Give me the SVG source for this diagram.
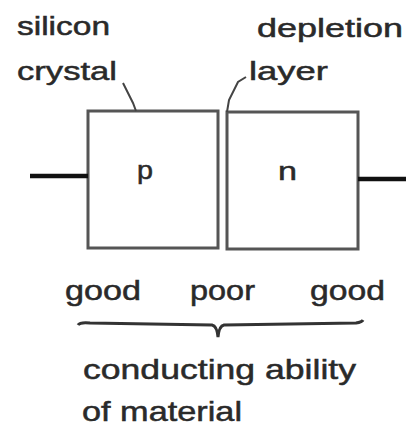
<svg xmlns="http://www.w3.org/2000/svg" width="406" height="429" viewBox="0 0 406 429">
<style>
text{font-family:"Liberation Sans",Arial,sans-serif;font-size:26px;fill:#2a2a2a;stroke:#2a2a2a;stroke-width:0.5}
.big{font-size:28px}
.box{fill:none;stroke:#555;stroke-width:3}
.lead{stroke:#111;stroke-width:4.5}
.leader{fill:none;stroke:#444;stroke-width:2}
</style>
<rect width="406" height="429" fill="#fff"/>
<g id="labels-top">
<text x="17" y="35" textLength="93" lengthAdjust="spacingAndGlyphs">silicon</text>
<text x="17" y="80" textLength="100" lengthAdjust="spacingAndGlyphs">crystal</text>
<text x="257" y="37" textLength="146" lengthAdjust="spacingAndGlyphs">depletion</text>
<text x="249" y="80" textLength="79" lengthAdjust="spacingAndGlyphs">layer</text>
</g>
<g id="p-region">
<rect class="box" x="88" y="111" width="130" height="137"/>
<text x="137" y="179" textLength="16" lengthAdjust="spacingAndGlyphs">p</text>
</g>
<g id="n-region">
<rect class="box" x="227" y="112" width="131" height="137"/>
<text x="278" y="180" textLength="19" lengthAdjust="spacingAndGlyphs">n</text>
</g>
<g id="connectors">
<line class="lead" x1="30" y1="176" x2="88" y2="176"/>
<line class="lead" x1="358" y1="179" x2="406" y2="179"/>
<path class="leader" d="M123,83 L133,103 L136,111"/>
<path class="leader" d="M246,77 L238,82 L229,100 L227,112"/>
<path d="M78,325 Q80,322 90,323 L212,325 Q217,326 218,337 Q219,326 224,325 L356,323 Q362,322 363,320" fill="none" stroke="#333" stroke-width="3"/>
</g>
<g id="labels-bottom">
<text class="big" x="65" y="300" textLength="76" lengthAdjust="spacingAndGlyphs">good</text>
<text class="big" x="190" y="300" textLength="65" lengthAdjust="spacingAndGlyphs">poor</text>
<text class="big" x="310" y="300" textLength="75" lengthAdjust="spacingAndGlyphs">good</text>
<text class="big" x="83" y="379" textLength="273" lengthAdjust="spacingAndGlyphs">conducting ability</text>
<text class="big" x="82" y="421" textLength="160" lengthAdjust="spacingAndGlyphs">of material</text>
</g>
</svg>
